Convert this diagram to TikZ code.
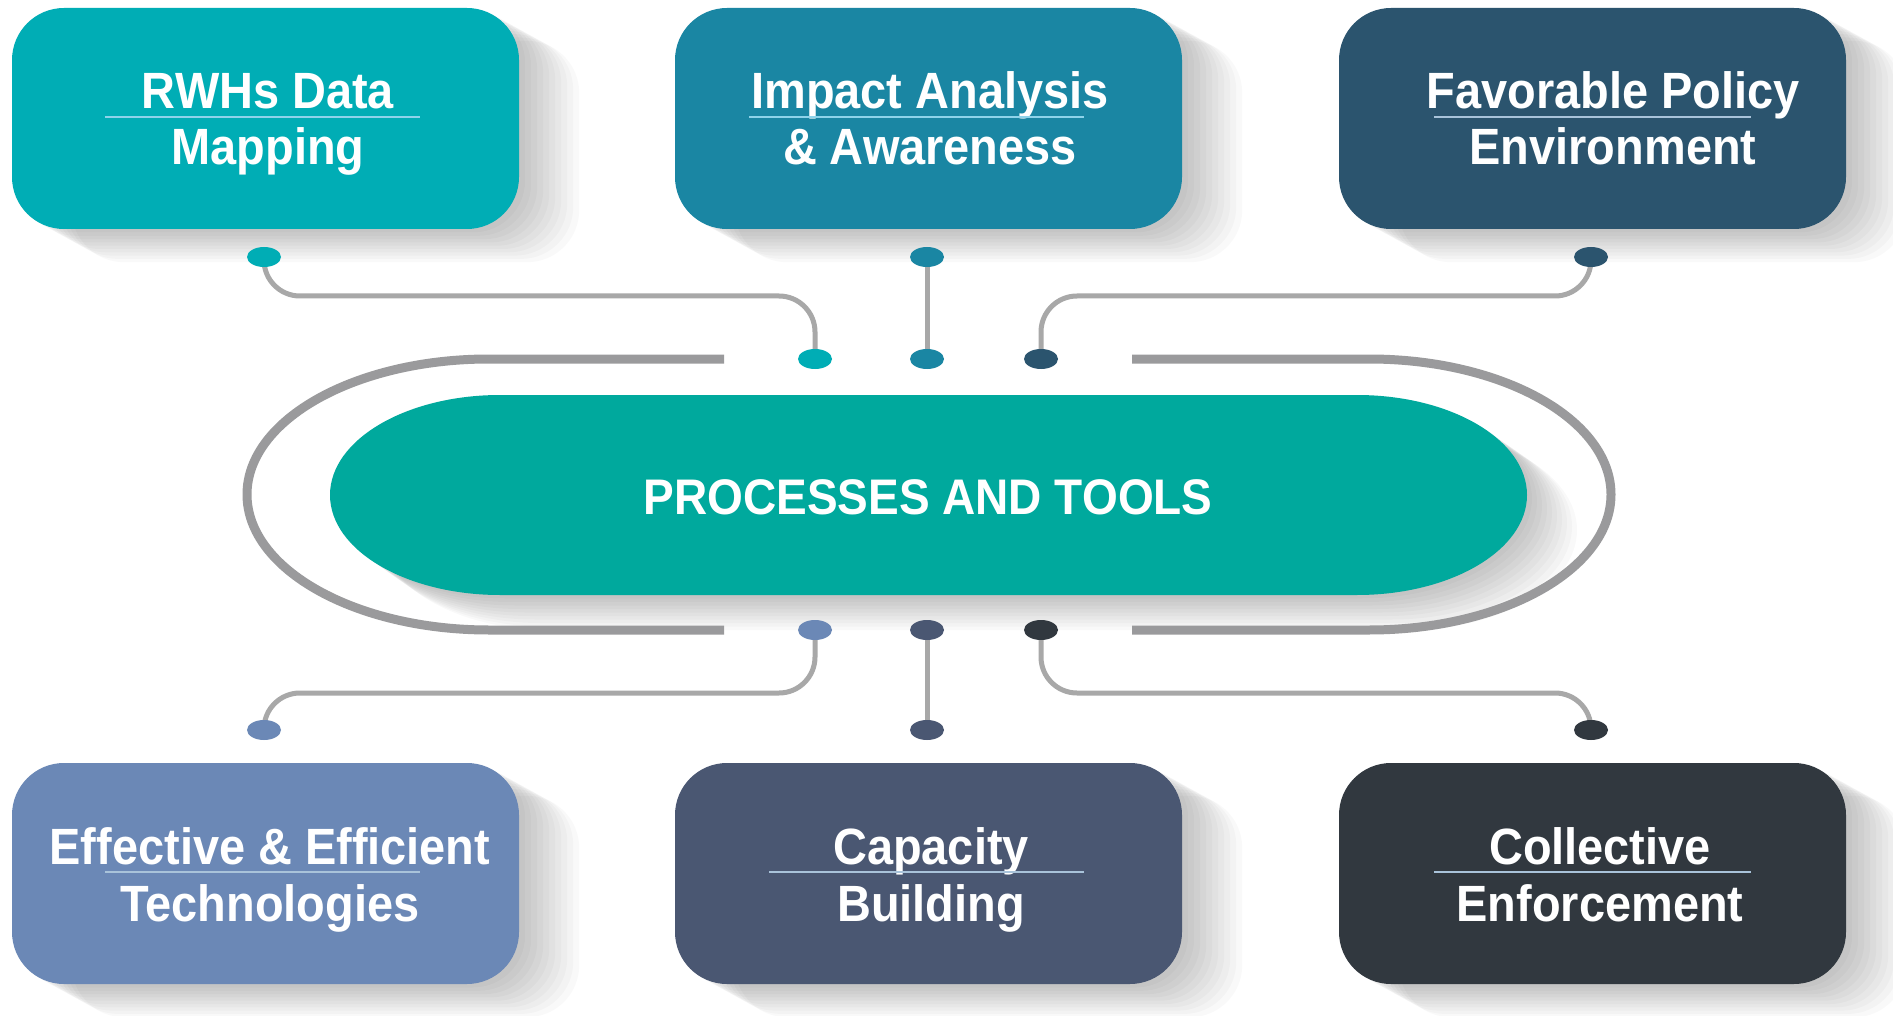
\documentclass[tikz,border=0pt]{standalone}
\usepackage{fontspec}
\setmainfont{Liberation Sans}[FakeStretch=0.92]
\usetikzlibrary{shapes.geometric,calc}
\definecolor{c1}{HTML}{00ADB5}
\definecolor{c2}{HTML}{1A86A3}
\definecolor{c3}{HTML}{2B546E}
\definecolor{c4}{HTML}{6B88B6}
\definecolor{c5}{HTML}{4A5772}
\definecolor{c6}{HTML}{31383F}
\definecolor{pillc}{HTML}{00A99D}
\definecolor{trackc}{HTML}{9A9A9C}
\definecolor{connc}{HTML}{A8A8A8}
\definecolor{sepA}{HTML}{8ED3EA}
\definecolor{sepB}{HTML}{A9C3DA}
\pgfdeclarelayer{shadow}
\pgfdeclarelayer{lines}
\pgfsetlayers{shadow,lines,main}
\begin{document}
\begin{tikzpicture}[x=1pt,y=-1pt,
  box/.style={rectangle, rounded corners=52, minimum width=507, minimum height=221, inner sep=0},
  lbl/.style={text=white, font=\fontsize{51}{60}\selectfont\bfseries, inner sep=0, anchor=base},
  dot/.style={ellipse, minimum width=34, minimum height=20, inner sep=0},
  conn/.style={draw=connc, line width=5, rounded corners=36},
  track/.style={draw=trackc, line width=9},
  sep/.style={line width=2.2},
  shd/.style={fill=black, opacity=0.024, rounded corners=52}]
\useasboundingbox (0,0) rectangle (1893,1016);

% boxes
\node[box, fill=c1] (b1) at (265.5,118.5) {};
\node[box, fill=c2] (b2) at (928.5,118.5) {};
\node[box, fill=c3] (b3) at (1592.5,118.5) {};
\node[box, fill=c4] (b4) at (265.5,873.5) {};
\node[box, fill=c5] (b5) at (928.5,873.5) {};
\node[box, fill=c6] (b6) at (1592.5,873.5) {};

\begin{pgfonlayer}{shadow}
  \fill[white] (0,0) rectangle (1893,1016);
  \foreach \b in {b1,b2,b3,b4,b5,b6}{
    \foreach \k in {1,...,10}{
      \fill[shd] ($(\b.north west)+(6*\k,3.3*\k)$) rectangle ($(\b.south east)+(6*\k,3.3*\k)$);
    }
  }
  \foreach \k in {1,...,10}{
    \fill[black, opacity=0.024, shift={(5*\k,3.5*\k)}] (500,395) -- (1357,395)
      arc[start angle=-90,end angle=90,x radius=170,y radius=100] -- (500,595)
      arc[start angle=90,end angle=270,x radius=170,y radius=100] -- cycle;
  }
\end{pgfonlayer}

% track
\draw[track] (724,359) -- (489,359) arc[start angle=270,end angle=90,x radius=242,y radius=135.5] -- (724,630);
\draw[track] (1132,359) -- (1369,359) arc[start angle=-90,end angle=90,x radius=242,y radius=135.5] -- (1132,630);

% central pill
\fill[pillc] (500,395) -- (1357,395)
  arc[start angle=-90,end angle=90,x radius=170,y radius=100] -- (500,595)
  arc[start angle=90,end angle=270,x radius=170,y radius=100] -- cycle;
\node[text=white, font=\fontsize{50}{60}\selectfont\bfseries, inner sep=0] (core) at (928,497) {PROCESSES AND TOOLS};

% labels
\node[lbl] (b1a) at (268,109) {RWHs Data};
\node[lbl] (b1b) at (268,165) {Mapping};
\draw[sep, sepA] (105,117) -- (420,117);
\node[lbl] (b2a) at (930,109) {Impact Analysis};
\node[lbl] (b2b) at (930,165) {\& Awareness};
\draw[sep, sepA] (749,117) -- (1084,117);
\node[lbl] (b3a) at (1613,109) {Favorable Policy};
\node[lbl] (b3b) at (1613,165) {Environment};
\draw[sep, sepB] (1434,117) -- (1751,117);
\node[lbl] (b4a) at (270,864) {Effective \& Efficient};
\node[lbl] (b4b) at (270,921) {Technologies};
\draw[sep, sepB] (105,872) -- (420,872);
\node[lbl] (b5a) at (931,864) {Capacity};
\node[lbl] (b5b) at (931,921) {Building};
\draw[sep, sepB] (769,872) -- (1084,872);
\node[lbl] (b6a) at (1600,864) {Collective};
\node[lbl] (b6b) at (1600,921) {Enforcement};
\draw[sep, sepB] (1434,872) -- (1751,872);

% dots
\node[dot, fill=c1] (t1) at (264,257) {};
\node[dot, fill=c2] (t2) at (927,257) {};
\node[dot, fill=c3] (t3) at (1591,257) {};
\node[dot, fill=c1] (m1) at (815,359) {};
\node[dot, fill=c2] (m2) at (927,359) {};
\node[dot, fill=c3] (m3) at (1041,359) {};
\node[dot, fill=c4] (n1) at (815,630) {};
\node[dot, fill=c5] (n2) at (927,630) {};
\node[dot, fill=c6] (n3) at (1041,630) {};
\node[dot, fill=c4] (u1) at (264,730) {};
\node[dot, fill=c5] (u2) at (927,730) {};
\node[dot, fill=c6] (u3) at (1591,730) {};

% connectors
\begin{pgfonlayer}{lines}
  \draw[conn] (t1.center) -- (t1.center |- 0,296) -- (m1.center |- 0,296) -- (m1.center);
  \draw[conn] (t2.center) -- (m2.center);
  \draw[conn] (t3.center) -- (t3.center |- 0,296) -- (m3.center |- 0,296) -- (m3.center);
  \draw[conn] (n1.center) -- (n1.center |- 0,693) -- (u1.center |- 0,693) -- (u1.center);
  \draw[conn] (n2.center) -- (u2.center);
  \draw[conn] (n3.center) -- (n3.center |- 0,693) -- (u3.center |- 0,693) -- (u3.center);
\end{pgfonlayer}
\end{tikzpicture}
\end{document}
